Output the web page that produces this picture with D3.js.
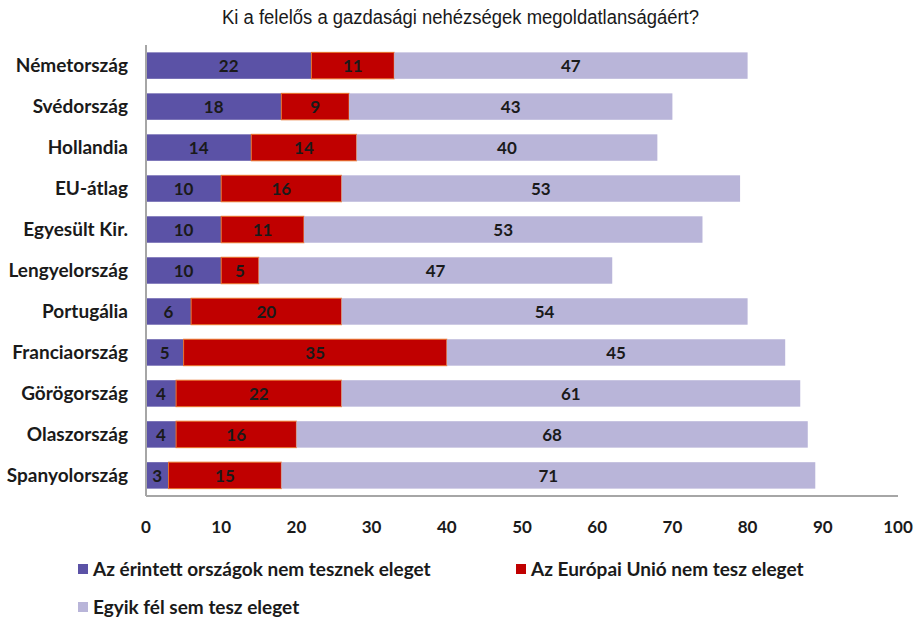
<!DOCTYPE html>
<html>
<head>
<meta charset="utf-8">
<script src="https://cdn.jsdelivr.net/npm/d3@7"></script>
<style>
  body { margin: 0; background: #fff; }
  svg text { font-family: Lato, "Open Sans", sans-serif; font-weight: bold; fill: #1a1a1a; }
  .title { font-family: "Liberation Sans Narrow", "Liberation Sans", Roboto, sans-serif; font-weight: normal; }
</style>
</head>
<body>
<svg id="chart" width="920" height="620"></svg>
<script>
// Data
const countries = ["Németország", "Svédország", "Hollandia", "EU-átlag", "Egyesült Kir.",
  "Lengyelország", "Portugália", "Franciaország", "Görögország", "Olaszország", "Spanyolország"];
const affected = [22, 18, 14, 10, 10, 10, 6, 5, 4, 4, 3];
const euUnion = [11, 9, 14, 16, 11, 5, 20, 35, 22, 16, 15];
const neither = [47, 43, 40, 53, 53, 47, 54, 45, 61, 68, 71];
const seriesNames = ["Az érintett országok nem tesznek eleget", "Az Európai Unió nem tesz eleget", "Egyik fél sem tesz eleget"];
const xTicks = [0, 10, 20, 30, 40, 50, 60, 70, 80, 90, 100];

const colors = ["#5b52a6", "#c00000", "#b9b5d9"];
const strokes = ["none", "#e8702a", "none"];

const svg = d3.select("#chart");
const margin = { top: 45, left: 146, right: 22, bottom: 124 };
const width = 920, height = 620;

const x = d3.scaleLinear().domain([0, 100]).range([margin.left, width - margin.right]);
const y = d3.scaleBand().domain(countries).range([margin.top, height - margin.bottom])
  .paddingInner(0.355).paddingOuter(0.18);

// stack the three series
const rows = countries.map((c, i) => ({ country: c, a: affected[i], b: euUnion[i], c: neither[i] }));
const stack = d3.stack().keys(["a", "b", "c"])(rows);

// title (condensed look squeezed to the original width)
svg.append("text")
  .attr("class", "title")
  .attr("x", 222).attr("y", 24)
  .attr("textLength", 477)
  .attr("lengthAdjust", "spacingAndGlyphs")
  .style("font-size", "20px")
  .text("Ki a felelős a gazdasági nehézségek megoldatlanságáért?");

// bars
const layers = svg.append("g").selectAll("g")
  .data(stack)
  .join("g")
  .attr("fill", (d, i) => colors[i])
  .attr("stroke", (d, i) => strokes[i])
  .attr("stroke-width", 1);

layers.selectAll("rect")
  .data(d => d)
  .join("rect")
  .attr("x", d => x(d[0]))
  .attr("y", d => y(d.data.country))
  .attr("width", d => x(d[1]) - x(d[0]))
  .attr("height", y.bandwidth());

// value labels centred in each segment
layers.selectAll("text")
  .data(d => d)
  .join("text")
  .attr("x", d => (x(d[0]) + x(d[1])) / 2)
  .attr("y", d => y(d.data.country) + y.bandwidth() / 2)
  .attr("dy", "0.36em")
  .attr("text-anchor", "middle")
  .attr("stroke", "none")
  .style("font-size", "17px")
  .text(d => d[1] - d[0]);

// axes lines
svg.append("line")
  .attr("x1", x(0)).attr("x2", x(0))
  .attr("y1", margin.top).attr("y2", height - margin.bottom)
  .attr("stroke", "#a6a6a6").attr("stroke-width", 2);
svg.append("line")
  .attr("x1", x(0)).attr("x2", x(100))
  .attr("y1", height - margin.bottom).attr("y2", height - margin.bottom)
  .attr("stroke", "#a6a6a6").attr("stroke-width", 2);

// category labels
svg.append("g").selectAll("text")
  .data(countries)
  .join("text")
  .attr("x", 128)
  .attr("y", d => y(d) + y.bandwidth() / 2)
  .attr("dy", "0.36em")
  .attr("text-anchor", "end")
  .style("font-size", "19px")
  .text(d => d);

// x tick labels
svg.append("g").selectAll("text")
  .data(xTicks)
  .join("text")
  .attr("x", d => x(d))
  .attr("y", 527)
  .attr("dy", "0.36em")
  .attr("text-anchor", "middle")
  .style("font-size", "17px")
  .text(d => d);

// legend
const legendPos = [[78, 569], [516, 569], [78, 607]];
const legend = svg.append("g").selectAll("g")
  .data(seriesNames)
  .join("g")
  .attr("transform", (d, i) => `translate(${legendPos[i][0]},${legendPos[i][1]})`);
legend.append("rect")
  .attr("x", 0).attr("y", -5)
  .attr("width", 10).attr("height", 10)
  .attr("fill", (d, i) => colors[i]);
legend.append("text")
  .attr("x", 15).attr("dy", "0.36em")
  .style("font-size", "19px")
  .text(d => d);
</script>
</body>
</html>
